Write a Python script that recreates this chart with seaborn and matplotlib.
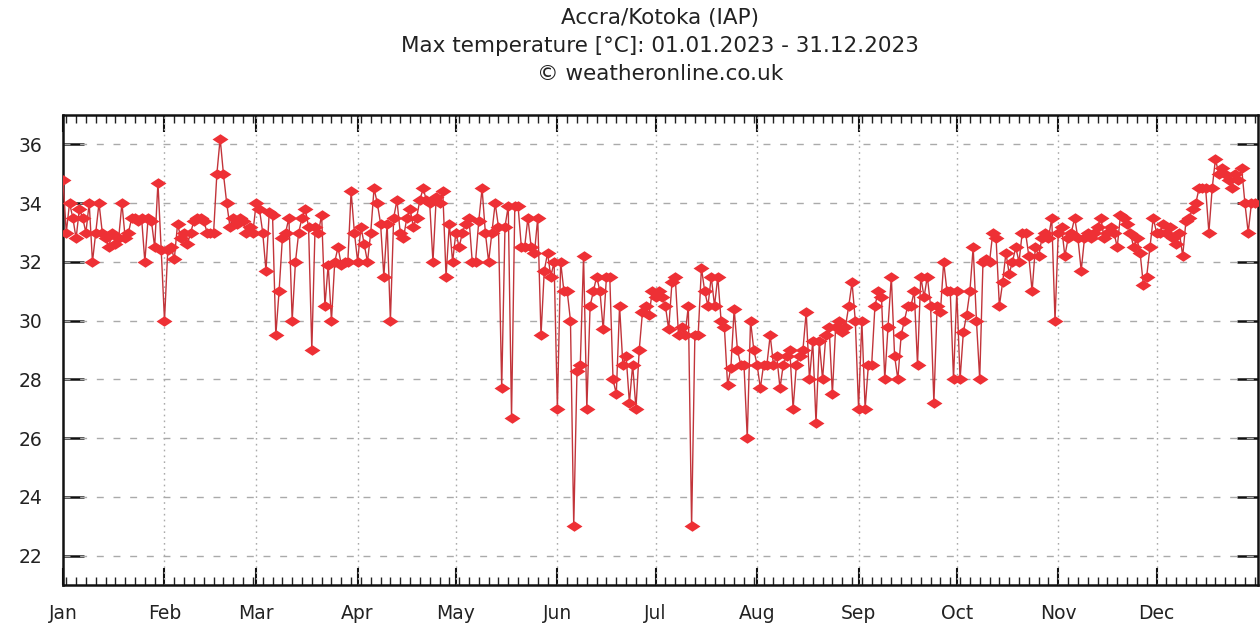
import numpy as np
import pandas as pd
import matplotlib
matplotlib.use("Agg")
import matplotlib.pyplot as plt
import matplotlib.dates as mdates
from matplotlib.path import Path
import seaborn as sns

# Daily maximum temperature (°C), Accra/Kotoka, 2023 — one list per month
jan = [34.8, 33.0, 34.0, 33.5, 32.8, 33.8, 33.5, 33.0, 34.0, 32.0,
       33.0, 34.0, 33.0, 32.8, 32.5, 33.0, 32.6, 32.8, 34.0, 32.8,
       33.0, 33.5, 33.5, 33.4, 33.5, 32.0, 33.5, 33.4, 32.5, 34.7, 32.4]
feb = [30.0, 32.4, 32.5, 32.1, 33.3, 32.8, 33.0, 32.6, 33.0, 33.4,
       33.5, 33.5, 33.4, 33.0, 33.0, 33.0, 35.0, 36.2, 35.0, 34.0,
       33.2, 33.5, 33.3, 33.5, 33.4, 33.0, 33.2, 33.0]
mar = [34.0, 33.8, 33.0, 31.7, 33.7, 33.6, 29.5, 31.0, 32.8, 33.0,
       33.5, 30.0, 32.0, 33.0, 33.5, 33.8, 33.2, 29.0, 33.2, 33.0,
       33.6, 30.5, 31.9, 30.0, 32.0, 32.5, 31.9, 32.0, 32.0, 34.4, 33.0]
apr = [32.0, 33.2, 32.6, 32.0, 33.0, 34.5, 34.0, 33.3, 31.5, 33.3,
       30.0, 33.5, 34.1, 33.0, 32.8, 33.5, 33.8, 33.2, 33.5, 34.1,
       34.5, 34.1, 34.0, 32.0, 34.2, 34.0, 34.4, 31.5, 33.3, 32.0]
may = [33.0, 32.5, 33.0, 33.3, 33.5, 32.0, 32.0, 33.4, 34.5, 33.0,
       32.0, 33.0, 34.0, 33.2, 27.7, 33.2, 33.9, 26.7, 33.9, 33.9,
       32.5, 32.5, 33.5, 32.5, 32.3, 33.5, 29.5, 31.7, 32.3, 31.5, 32.0]
jun = [27.0, 32.0, 31.0, 31.0, 30.0, 23.0, 28.3, 28.5, 32.2, 27.0,
       30.5, 31.0, 31.5, 31.0, 29.7, 31.5, 31.5, 28.0, 27.5, 30.5,
       28.5, 28.8, 27.2, 28.5, 27.0, 29.0, 30.3, 30.5, 30.2, 31.0]
jul = [30.8, 31.0, 30.8, 30.5, 29.7, 31.3, 31.5, 29.5, 29.8, 29.5,
       30.5, 23.0, 29.5, 29.5, 31.8, 31.0, 30.5, 31.5, 30.5, 31.5,
       30.0, 29.8, 27.8, 28.4, 30.4, 29.0, 28.5, 28.5, 26.0, 30.0, 29.0]
aug = [28.5, 27.7, 28.5, 28.5, 29.5, 28.5, 28.8, 27.7, 28.5, 28.8,
       29.0, 27.0, 28.5, 28.8, 29.0, 30.3, 28.0, 29.3, 26.5, 29.3,
       28.0, 29.5, 29.8, 27.5, 29.8, 30.0, 29.6, 29.8, 30.5, 31.3, 30.0]
sep = [27.0, 30.0, 27.0, 28.5, 28.5, 30.5, 31.0, 30.8, 28.0, 29.8,
       31.5, 28.8, 28.0, 29.5, 30.0, 30.5, 30.5, 31.0, 28.5, 31.5,
       30.8, 31.5, 30.5, 27.2, 30.5, 30.3, 32.0, 31.0, 31.0, 28.0]
oct_ = [31.0, 28.0, 29.6, 30.2, 31.0, 32.5, 30.0, 28.0, 32.0, 32.1,
        32.0, 33.0, 32.8, 30.5, 31.3, 32.3, 31.6, 32.0, 32.5, 32.0,
        33.0, 33.0, 32.2, 31.0, 32.5, 32.2, 32.8, 33.0, 32.8, 33.5, 30.0]
nov = [33.0, 33.2, 32.2, 32.8, 33.0, 33.5, 32.8, 31.7, 32.8, 33.0,
       32.8, 33.0, 33.2, 33.5, 32.8, 33.0, 33.2, 33.0, 32.5, 33.6,
       33.5, 33.3, 33.0, 32.5, 32.8, 32.3, 31.2, 31.5, 32.5, 33.5]
dec = [33.0, 33.0, 33.3, 33.0, 33.2, 32.8, 32.6, 33.0, 32.2, 33.4,
       33.5, 33.8, 34.0, 34.5, 34.5, 34.5, 33.0, 34.5, 35.5, 35.0,
       35.2, 35.0, 34.8, 34.5, 35.0, 34.8, 35.2, 34.0, 33.0, 34.0, 34.0]

tmax = jan + feb + mar + apr + may + jun + jul + aug + sep + oct_ + nov + dec
dates = pd.date_range("2023-01-01", periods=len(tmax), freq="D")
df = pd.DataFrame({"date": dates, "tmax": tmax})

month_labels = ["Jan", "Feb", "Mar", "Apr", "May", "Jun",
                "Jul", "Aug", "Sep", "Oct", "Nov", "Dec"]
title_lines = ["Accra/Kotoka (IAP)",
               "Max temperature [°C]: 01.01.2023 - 31.12.2023",
               "© weatheronline.co.uk"]
y_ticks = [22, 24, 26, 28, 30, 32, 34, 36]

sns.set_style("white")
plt.rcParams["font.family"] = ["DejaVu Sans"]

fig = plt.figure(figsize=(12.6, 6.26), dpi=100)
ax = fig.add_axes([63 / 1260, 1 - 585 / 626, (1258 - 63) / 1260, (585 - 115) / 626])

# wide, flat diamond marker
diamond = Path([(-1.0, 0.0), (0.0, 0.66), (1.0, 0.0), (0.0, -0.66), (-1.0, 0.0)],
               [Path.MOVETO, Path.LINETO, Path.LINETO, Path.LINETO, Path.CLOSEPOLY])

sns.lineplot(data=df, x="date", y="tmax", ax=ax, color="#c2343a", linewidth=1.0,
             marker=diamond, markersize=11.5, markerfacecolor="#ee3035",
             markeredgecolor="#ee3035", markeredgewidth=0, zorder=3)

ax.set_xlim(pd.Timestamp("2023-01-01"), pd.Timestamp("2024-01-01"))
ax.set_ylim(21, 37)
ax.set_yticks(y_ticks)
ax.set_xlabel("")
ax.set_ylabel("")

month_starts = pd.date_range("2023-01-01", periods=12, freq="MS")
ax.set_xticks(month_starts)
ax.set_xticklabels(month_labels)
ax.xaxis.set_minor_locator(mdates.DayLocator(interval=3))

ax.grid(False)
for y in y_ticks:
    ax.axhline(y, color="#aaaaaa", linewidth=1.0, linestyle=(0, (5, 7)), zorder=1)
for m in month_starts[1:]:
    ax.axvline(m, color="#aaaaaa", linewidth=1.0, linestyle=(0, (1.2, 3)), zorder=1)

for side in ["left", "right", "top", "bottom"]:
    ax.spines[side].set_visible(True)
    ax.spines[side].set_color("#111111")
    ax.spines[side].set_linewidth(1.8)

ax.tick_params(axis="y", which="major", direction="in", length=15, width=1.8,
               left=True, right=True, labelsize=13.5, colors="#111111",
               labelcolor="#222222", pad=15)
ax.tick_params(axis="x", which="major", direction="in", length=12, width=1.5,
               bottom=True, top=True, labelsize=13.5, colors="#111111",
               labelcolor="#222222", pad=14)
ax.tick_params(axis="x", which="minor", direction="in", length=6, width=1.0,
               bottom=True, top=True, colors="#222222")

for i, line in enumerate(title_lines):
    fig.text(0.524, 1 - (18 + 28 * i) / 626, line, ha="center", va="center",
             fontsize=15.5, color="#222222")

fig.savefig("out.png", dpi=100, facecolor="white")
